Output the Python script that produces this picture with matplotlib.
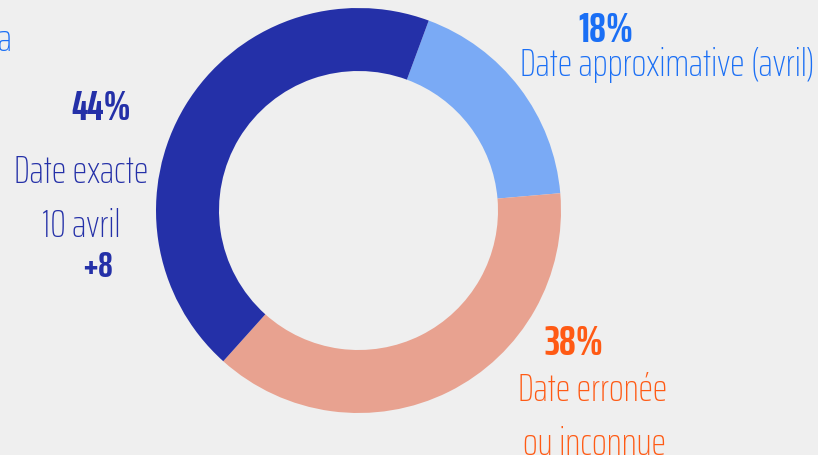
import matplotlib.pyplot as plt

# parts de réponses (%)
categories = ['Date approximative (avril)', 'Date erronée\nou inconnue', 'Date exacte\n10 avril']
values = [18, 38, 44]
pct_labels = ['18%', '38%', '44%']
colors = ['#7aaaf5', '#e8a290', '#2430a8']

bg = '#efefef'
fam = ['Saira ExtraCondensed', 'DejaVu Sans']

fig = plt.figure(figsize=(8.18, 4.55), dpi=100, facecolor=bg)
ax = fig.add_axes([0, 0, 1, 1])
ax.set_facecolor(bg)

# donut, coordonnées en pixels (y vers le haut)
ax.pie(values, colors=colors, startangle=69.7, counterclock=False,
       radius=202.5, center=(358.5, 244.5),
       wedgeprops=dict(width=63, edgecolor='none'))
ax.set_xlim(0, 818)
ax.set_ylim(0, 455)
ax.set_aspect('auto')
ax.axis('off')

H = 455
blue_txt = '#1a6ff5'
dark_txt = '#2430a8'
orange_txt = '#ff5a14'
fs = 28   # libellés
fb = 30   # pourcentages

def label(x, y, s, color, size=fs, weight='light', ha='center'):
    ax.text(x, H - y, s, ha=ha, va='baseline', fontsize=size, fontweight=weight,
            color=color, family=fam)

label(13, 51, 'ra', blue_txt, ha='right')

label(606, 42, pct_labels[0], blue_txt, size=fb, weight='bold')
label(667, 76, categories[0], blue_txt)

label(101, 120, pct_labels[2], dark_txt, size=fb, weight='bold')
label(81, 183, 'Date exacte', dark_txt)
label(81, 237, '10 avril', dark_txt)
label(97, 277, '+8', dark_txt, size=26, weight='bold')

label(574, 355, pct_labels[1], orange_txt, size=fb, weight='bold')
label(593, 401, 'Date erronée', orange_txt)
label(594, 455, 'ou inconnue', orange_txt)

fig.savefig('out.png', dpi=100, facecolor=bg)
